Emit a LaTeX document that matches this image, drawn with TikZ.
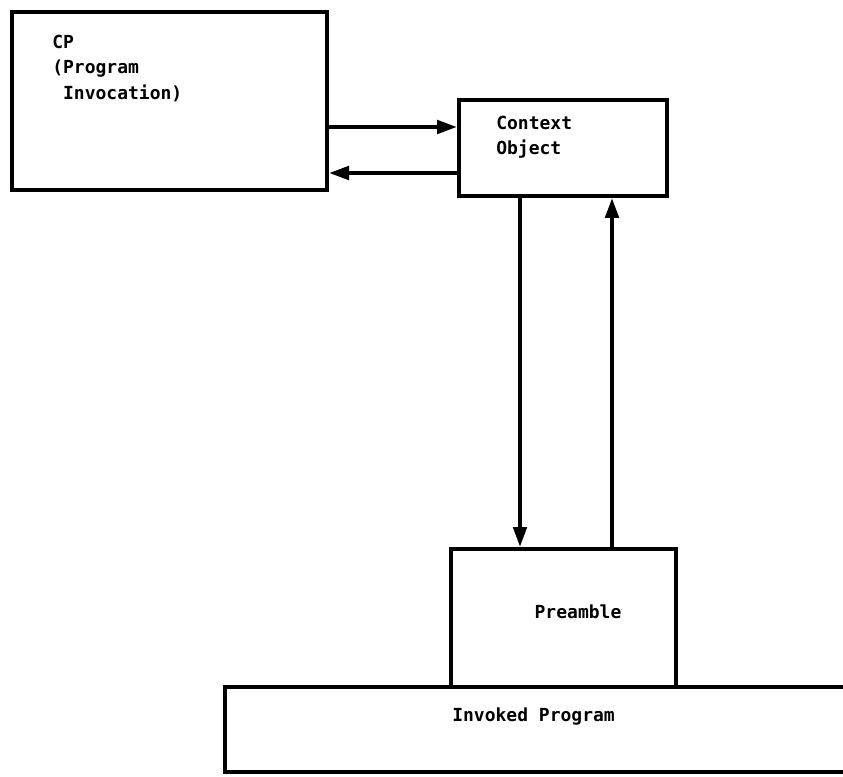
\documentclass[tikz,border=0pt]{standalone}
\usepackage{fontspec}
\setmonofont{DejaVu Sans Mono}
\usetikzlibrary{arrows.meta}
\begin{document}
\begin{tikzpicture}[x=0.75pt,y=-0.75pt,
  box/.style={draw, line width=3pt, inner sep=0pt},
  lbl/.style={font=\ttfamily\bfseries\fontsize{13.5}{19}\selectfont, align=left, inner sep=0pt},
  arr/.style={-{Triangle[length=15pt,width=10pt]}, line width=3pt}]
\useasboundingbox (0,0) rectangle (843,777);
\node[box, minimum width=236.25pt, minimum height=133.5pt] (cp) at (169.5,101) {};
\node[box, minimum width=156pt, minimum height=72pt] (ctx) at (563,148) {};
\node[box, minimum width=506.25pt, minimum height=63.75pt] (inv) at (562.5,729.5) {};
\node[box, minimum width=168.75pt, minimum height=103.5pt] (pre) at (563.5,618) {};
\node[lbl, anchor=north west] (cpt) at (52,35) {CP\\(Program\\\hphantom{(}Invocation)};
\node[lbl, anchor=north west] (ctxt) at (496,116) {Context\\Object};
\node[lbl] (pret) at (578,612) {Preamble};
\node[lbl, anchor=west] (invt) at (452,717) {Invoked Program};
\coordinate (a1) at (0,127);
\coordinate (a2) at (0,173);
\coordinate (a3) at (520,0);
\coordinate (a4) at (612,0);
\draw[arr] (cp.east |- a1) -- (ctx.west |- a1);
\draw[arr] (ctx.west |- a2) -- (cp.east |- a2);
\draw[arr] (ctx.south -| a3) -- (pre.north -| a3);
\draw[arr] (pre.north -| a4) -- (ctx.south -| a4);
\end{tikzpicture}
\end{document}
